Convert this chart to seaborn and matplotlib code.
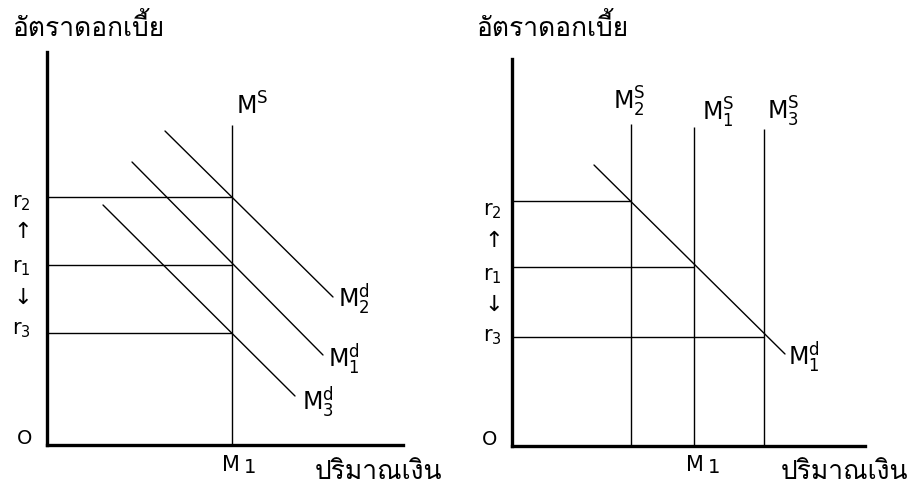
import numpy as np
import pandas as pd
import matplotlib
matplotlib.use("Agg")
import matplotlib.pyplot as plt
import seaborn as sns
from matplotlib import font_manager
from matplotlib.ft2font import FT2Font

# ---------------- data (panel units, origin at the axes corner) ----------------
# Left panel: money demand shifts
left_r_labels = ["$r_2$", "$r_1$", "$r_3$"]
left_r = [248, 180, 112]            # interest rate levels
left_m1 = 185                       # money supply quantity M1
left_ms_top = 320
left_demand_names = ["$M_2^d$", "$M_1^d$", "$M_3^d$"]
left_demand_x = [[118, 286], [85, 276], [56, 248]]
left_demand_y = [[314, 148], [283, 90], [240, 49]]

# Right panel: money supply shifts
right_r_labels = ["$r_2$", "$r_1$", "$r_3$"]
right_r = [245, 179, 109]
right_supply_names = ["$M_2^S$", "$M_1^S$", "$M_3^S$"]
right_supply_x = [119, 182, 252]
right_supply_top = [322, 319, 317]
right_demand_name = "$M_1^d$"
right_demand_x = [82, 273]
right_demand_y = [281, 92]

y_title = "อัตราดอกเบี้ย"
x_title = "ปริมาณเงิน"
origin_label = "O"
m1_label = ("M", "1")

# ---------------- style ----------------
sns.set_theme(style="white")
thai_font = None
for f in font_manager.fontManager.ttflist:
    try:
        if 0x0E2D in FT2Font(f.fname).get_charmap():
            thai_font = f.name
            break
    except Exception:
        pass
fams = ["DejaVu Sans"]
if thai_font:
    fams = [thai_font, "DejaVu Sans"]
plt.rcParams["font.family"] = ["DejaVu Sans"]
plt.rcParams["mathtext.default"] = "regular"
plt.rcParams["text.color"] = "black"

W, H = 910, 489
fig = plt.figure(figsize=(W / 100, H / 100), dpi=100)
fig.patch.set_facecolor("white")


def fx(px):
    return px / W


def fy(py):
    return 1 - py / H


def make_axes(x0, y0, x1, y1):
    ax = fig.add_axes([fx(x0), fy(y0), fx(x1 - x0), (y0 - y1) / H])
    ax.set_xlim(0, x1 - x0)
    ax.set_ylim(0, y0 - y1)
    for s in ["top", "right"]:
        ax.spines[s].set_visible(False)
    for s in ["left", "bottom"]:
        ax.spines[s].set_color("black")
        ax.spines[s].set_linewidth(2.4)
    ax.set_xticks([])
    ax.set_yticks([])
    ax.set_facecolor("none")
    ax.patch.set_alpha(0)
    return ax


LW = 1.0
M_FS = 17
R_FS = 15
TH_FS = 19

# ---------- left panel ----------
axL = make_axes(47, 446, 403, 53)
for r in left_r:
    axL.hlines(r, 0, left_m1, color="black", lw=LW)
axL.vlines(left_m1, 0, left_ms_top, color="black", lw=LW)
for xs, ys in zip(left_demand_x, left_demand_y):
    sns.lineplot(x=xs, y=ys, ax=axL, color="black", lw=LW, estimator=None, sort=False)
axL.text(left_m1 + 4, left_ms_top + 6, "$M^S$", fontsize=M_FS, ha="left", va="bottom")
d_off = [(5, -1), (5, -3), (7, -5)]
for name, xs, ys, (dx, dy) in zip(left_demand_names, left_demand_x, left_demand_y, d_off):
    axL.text(xs[1] + dx, ys[1] + dy, name, fontsize=M_FS, ha="left", va="center")

# ---------- right panel ----------
axR = make_axes(512, 447, 865, 60)
for r, xm in zip(right_r, right_supply_x):
    axR.hlines(r, 0, xm, color="black", lw=LW)
for xm, top in zip(right_supply_x, right_supply_top):
    axR.vlines(xm, 0, top, color="black", lw=LW)
sns.lineplot(x=right_demand_x, y=right_demand_y, ax=axR, color="black", lw=LW,
             estimator=None, sort=False)
s_off = [(-18, 6), (8, -2), (3, 1)]
for name, xm, top, (dx, dy) in zip(right_supply_names, right_supply_x, right_supply_top, s_off):
    axR.text(xm + dx, top + dy, name, fontsize=M_FS, ha="left", va="bottom")
axR.text(right_demand_x[1] + 3, right_demand_y[1] - 2, right_demand_name,
         fontsize=M_FS, ha="left", va="center")

# ---------- axis annotations (figure pixel layout) ----------
for x0, xt in [(12, 315), (476, 781)]:
    fig.text(fx(x0), fy(36), y_title, fontsize=TH_FS, family=fams, ha="left", va="baseline")
    fig.text(fx(xt), fy(479), x_title, fontsize=TH_FS, family=fams, ha="left", va="baseline")
for xm in [222, 686]:
    fig.text(fx(xm), fy(471), m1_label[0], fontsize=15, ha="left", va="baseline")
    fig.text(fx(xm + 22), fy(473), m1_label[1], fontsize=14, ha="left", va="baseline")

left_label_y = [203, 268, 330]
right_label_y = [211, 276, 337]
for ys, xc, ya in [(left_label_y, 21, (232, 298)), (right_label_y, 492, (241, 305))]:
    for lab, y in zip(left_r_labels, ys):
        fig.text(fx(xc), fy(y), lab, fontsize=R_FS, ha="center", va="center")
    fig.text(fx(xc + 2), fy(ya[0]), "↑", fontsize=16, ha="center", va="center")
    fig.text(fx(xc + 2), fy(ya[1]), "↓", fontsize=16, ha="center", va="center")
fig.text(fx(25), fy(438), origin_label, fontsize=14, ha="center", va="center")
fig.text(fx(490), fy(440), origin_label, fontsize=14, ha="center", va="center")

fig.savefig("out.png", dpi=100, facecolor="white")
